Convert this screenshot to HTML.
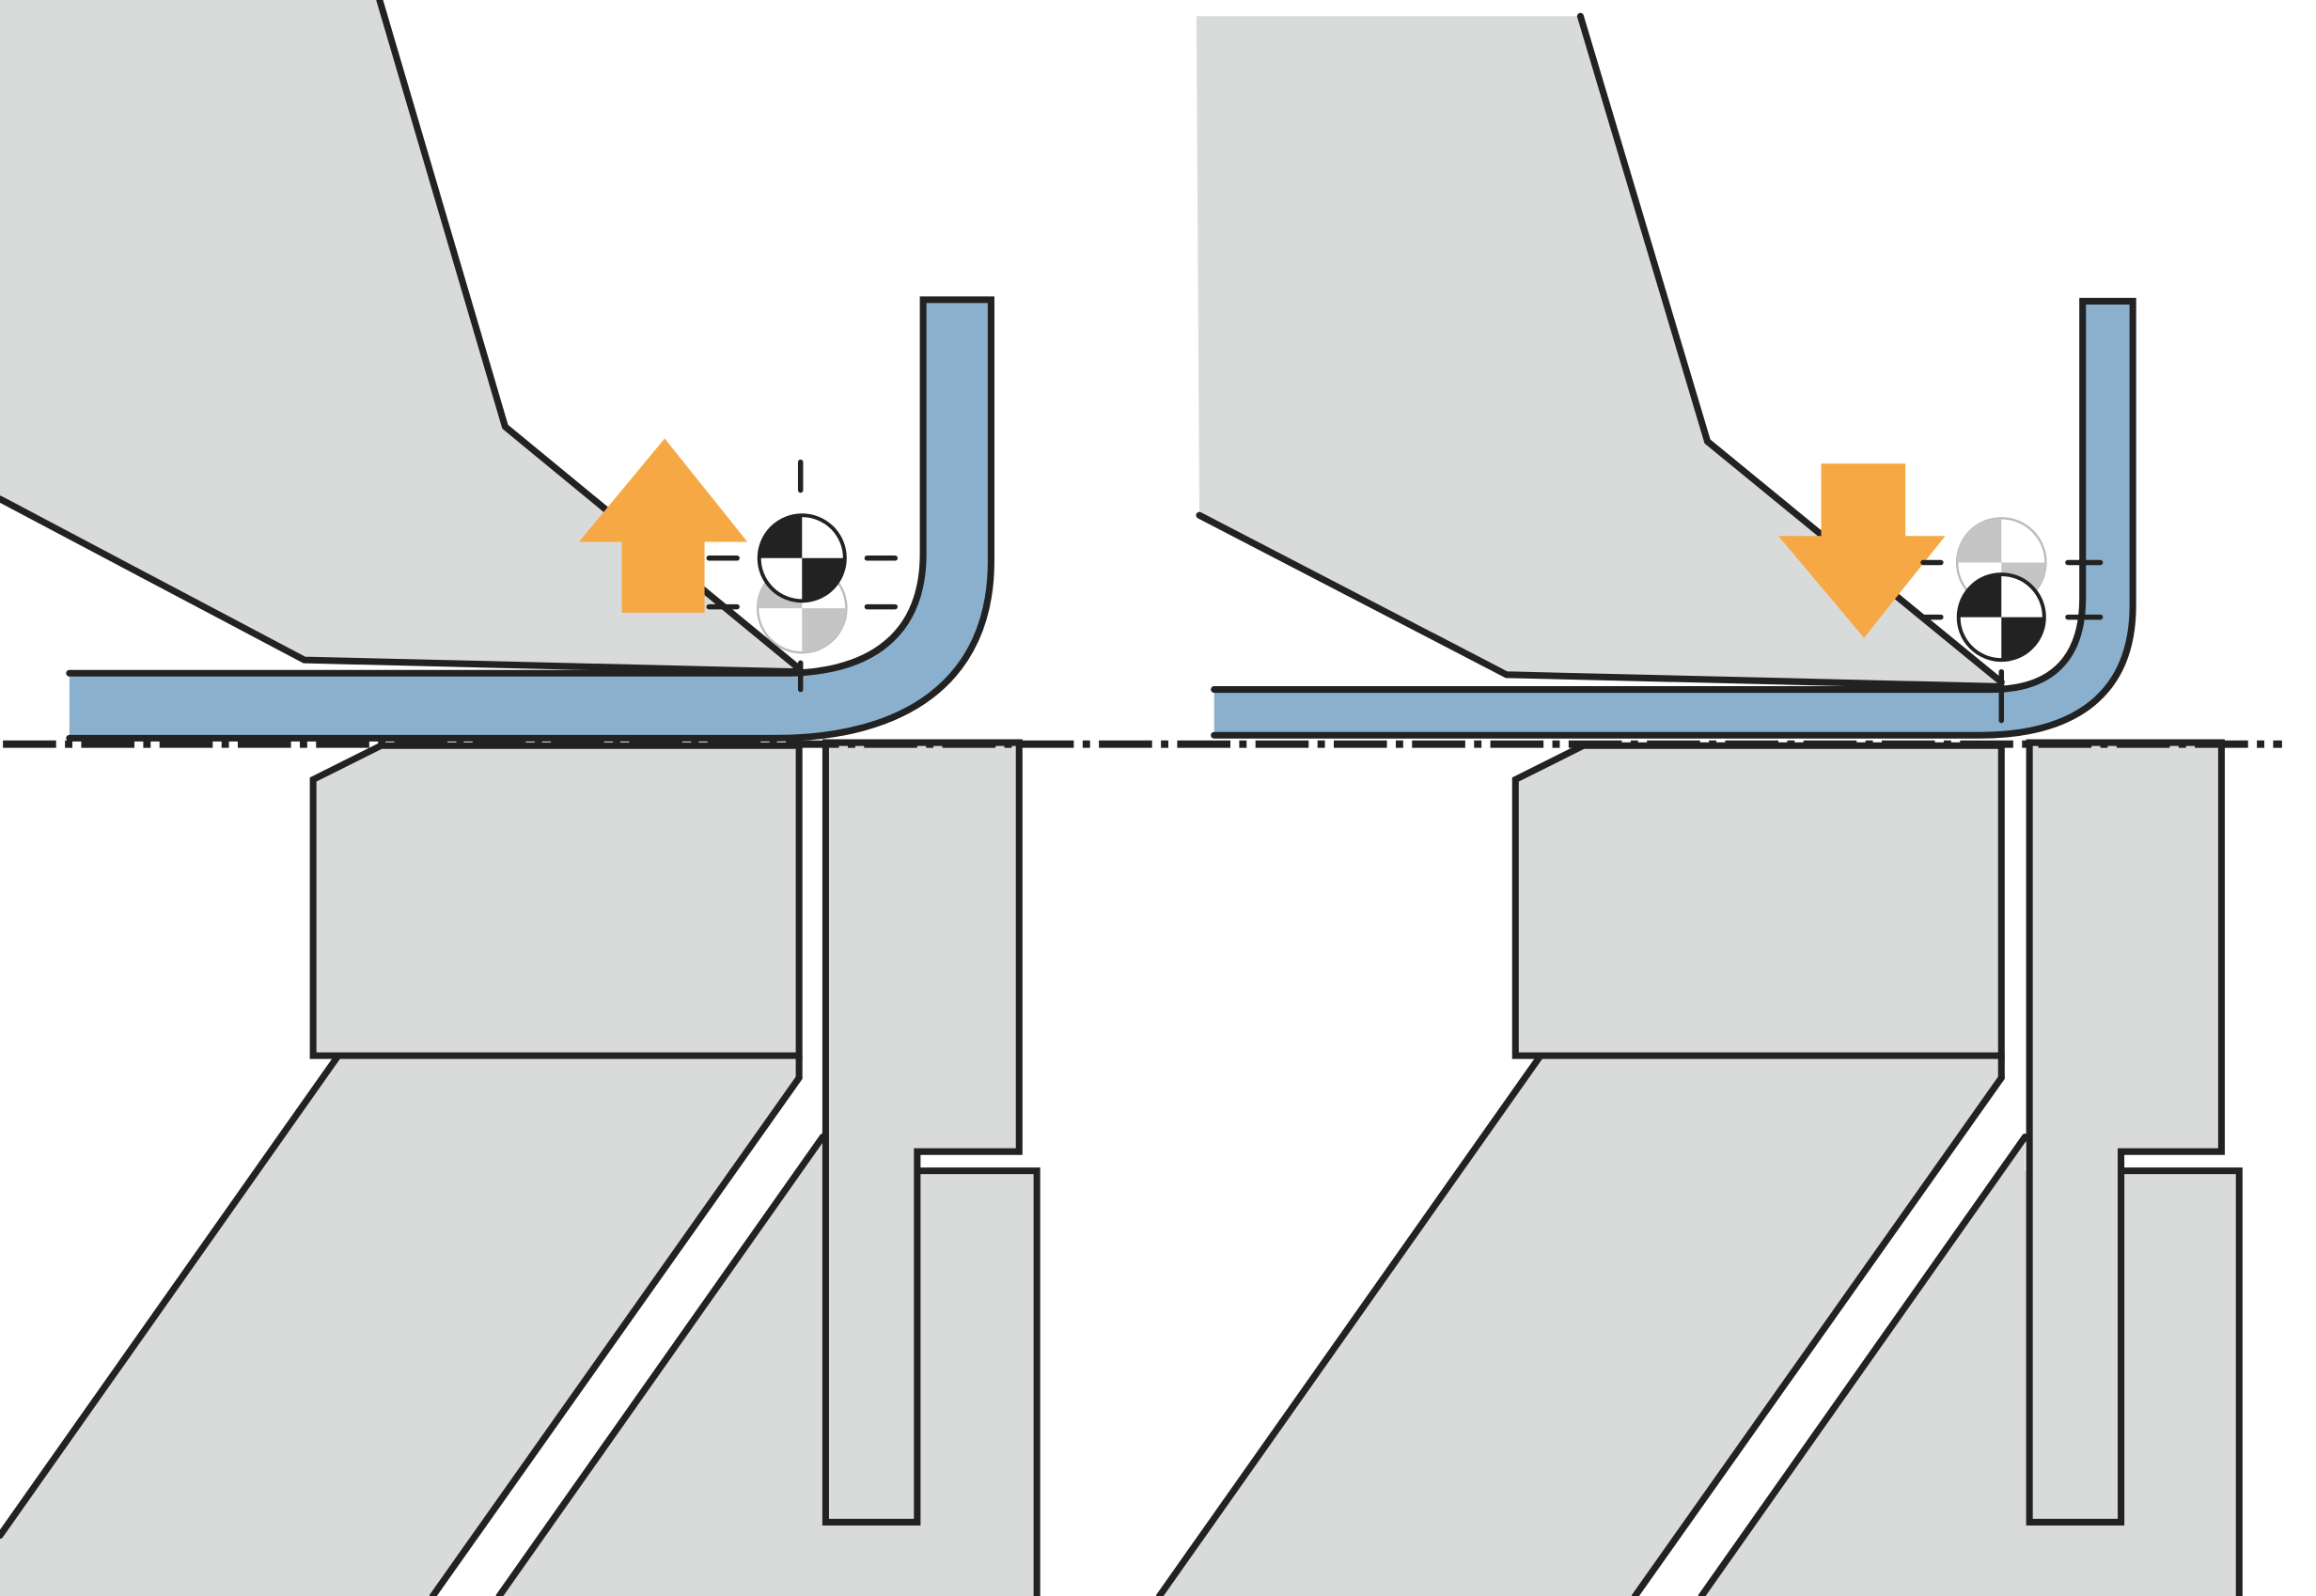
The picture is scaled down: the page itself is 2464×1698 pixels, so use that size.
<!DOCTYPE html>
<html><head><style>html,body{margin:0;padding:0;background:#fff}svg{display:block}</style></head><body>
<svg width="2464" height="1698" viewBox="0 0 1568 1081" preserveAspectRatio="none" xmlns="http://www.w3.org/2000/svg">
<defs>
<g id="tblack"><circle r="30" fill="#fff" stroke="none"/><path d="M0,0 L-30,0 A30,30 0 0 1 0,-30 Z" fill="#222" stroke="none"/><path d="M0,0 L30,0 A30,30 0 0 1 0,30 Z" fill="#222" stroke="none"/><circle r="29" fill="none" stroke="#222" stroke-width="2.5"/></g>
<g id="tgray"><circle r="30" fill="#fff" stroke="#bbb" stroke-width="1.5"/><path d="M0,0 L-30,0 A30,30 0 0 1 0,-30 Z" fill="#c4c5c4" stroke="none"/><path d="M0,0 L30,0 A30,30 0 0 1 0,30 Z" fill="#c4c5c4" stroke="none"/></g>
</defs>
<g stroke="#222" stroke-width="4.5" stroke-linejoin="miter" stroke-linecap="round">
<!-- LEFT PANEL -->
<polygon points="0,0 257,0 342,289 540,452 540,456 206,447 0,338" fill="#d9dbda" stroke="none"/>
<polyline points="257,0 342,289 540,452" fill="none"/>
<polyline points="0,338 206,447 540,455" fill="none"/>
<polygon points="229,715 541,715 541,730 293,1081 0,1081 0,1040" fill="#d9dbda" stroke="none"/>
<line x1="229" y1="715" x2="0" y2="1040"/><line x1="541" y1="730" x2="293" y2="1081"/>
<polygon points="212,528 258,505 541,505 541,715 212,715" fill="#d9dbda"/>
<polygon points="557,770 557,793 702,793 702,1081 338,1081" fill="#d9dbda" stroke="none"/>
<line x1="557" y1="770" x2="338" y2="1081"/>
<polyline points="621,793 702,793 702,1081" fill="none"/>
<polygon points="559,503 690,503 690,780 621,780 621,1031 559,1031" fill="#d9dbda"/>
<line x1="541" y1="715" x2="541" y2="730"/>
<path d="M47,456 L530,456 C592,456 625,428 625,375 L625,203 L671,203 L671,380 C671,462 612,500 525,500 L47,500 Z" fill="#8ab0cd" stroke="none"/>
<path d="M47,456 L530,456 C592,456 625,428 625,375 L625,203 L671,203 L671,380 C671,462 612,500 525,500 L47,500" fill="none"/>
<polygon points="450,297 506,367 477,367 477,415 421,415 421,367 392,367" fill="#f6a844" stroke="none"/>
<use href="#tgray" x="543" y="412"/>
<use href="#tblack" x="543" y="378"/>
<line x1="542" y1="313" x2="542" y2="332" stroke-width="3.5"/>
<line x1="480" y1="378" x2="499" y2="378" stroke-width="3.5"/><line x1="480" y1="411" x2="499" y2="411" stroke-width="3.5"/>
<line x1="587" y1="378" x2="606" y2="378" stroke-width="3.5"/><line x1="587" y1="411" x2="606" y2="411" stroke-width="3.5"/>
<line x1="542" y1="449" x2="542" y2="467" stroke-width="3.5"/>
<!-- RIGHT PANEL -->
<polygon points="810,11 1070,11 1156,299 1355,462 1355,466 1020,457 812,349" fill="#d9dbda" stroke="none"/>
<polyline points="1070,11 1156,299 1355,462" fill="none"/>
<polyline points="812,349 1020,457 1355,465" fill="none"/>
<polygon points="1043,715 1355,715 1355,730 1107,1081 785,1081" fill="#d9dbda" stroke="none"/>
<line x1="1043" y1="715" x2="785" y2="1081"/><line x1="1355" y1="730" x2="1107" y2="1081"/>
<polygon points="1026,528 1072,505 1355,505 1355,715 1026,715" fill="#d9dbda"/>
<polygon points="1371,770 1371,793 1516,793 1516,1081 1152,1081" fill="#d9dbda" stroke="none"/>
<line x1="1371" y1="770" x2="1152" y2="1081"/>
<polyline points="1436,793 1516,793 1516,1081" fill="none"/>
<polygon points="1374,503 1504,503 1504,780 1436,780 1436,1031 1374,1031" fill="#d9dbda"/>
<line x1="1355" y1="715" x2="1355" y2="730"/>
<path d="M822,467 L1348,467 C1390,467 1410,445 1410,405 L1410,204 L1444,204 L1444,410 C1444,470 1405,498 1340,498 L822,498 Z" fill="#8ab0cd" stroke="none"/>
<path d="M822,467 L1348,467 C1390,467 1410,445 1410,405 L1410,204 L1444,204 L1444,410 C1444,470 1405,498 1340,498 L822,498" fill="none"/>
<polygon points="1233,314 1290,314 1290,363 1317,363 1262,432 1204,363 1233,363" fill="#f6a844" stroke="none"/>
<use href="#tgray" x="1355" y="381"/>
<use href="#tblack" x="1355" y="418"/>
<line x1="1302" y1="381" x2="1314" y2="381" stroke-width="3.5"/><line x1="1302" y1="418" x2="1314" y2="418" stroke-width="3.5"/>
<line x1="1400" y1="381" x2="1422" y2="381" stroke-width="3.5"/><line x1="1400" y1="418" x2="1422" y2="418" stroke-width="3.5"/>
<line x1="1355" y1="455" x2="1355" y2="488" stroke-width="3.5"/>
<line x1="2" y1="504" x2="1545" y2="504" stroke-width="5" stroke-dasharray="36 6 5 6" stroke-linecap="butt"/>
</g>
</svg>
</body></html>
